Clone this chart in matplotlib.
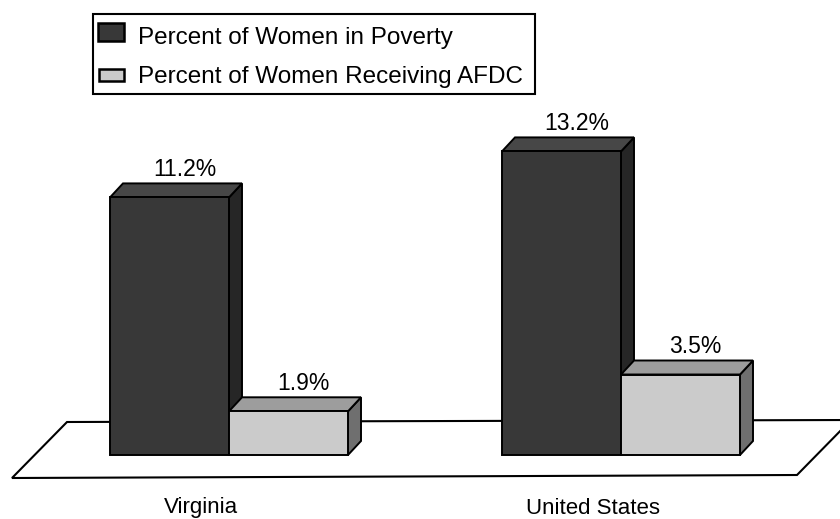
import matplotlib
matplotlib.use("Agg")
import matplotlib.pyplot as plt
from matplotlib.patches import Polygon, Rectangle

# Data
categories = ["Virginia", "United States"]
series_names = ["Percent of Women in Poverty", "Percent of Women Receiving AFDC"]
poverty = [11.2, 13.2]
afdc = [1.9, 3.5]
series_values = [poverty, afdc]

plt.rcParams["font.family"] = ["Liberation Sans", "DejaVu Sans"]

W, H = 840, 519
fig = plt.figure(figsize=(W / 100, H / 100), dpi=100)
ax = fig.add_axes([0, 0, 1, 1])

# vertical scale: pixels per percentage point, baseline row in pixels
PX_PER_PCT = 23.0
BASE_ROW = 455.0


def row_to_val(row):
    return (BASE_ROW - row) / PX_PER_PCT


ax.set_xlim(0, W)
ax.set_ylim(row_to_val(H), row_to_val(0))
ax.axis("off")

# bar layout (x in pixel-like units)
group_left0 = 110
group_step = 392
bar_w = 119
dx = 13                       # depth offset to the right
dy = 14 / PX_PER_PCT          # depth offset upward (in data units)

face_colors = [
    # front, top, side
    ("#383838", "#474747", "#262626"),
    ("#cbcbcb", "#9d9d9d", "#6f6f6f"),
]

# floor plane
floor_rows = [(12, 478), (797, 475), (851, 420), (67, 422)]
floor = Polygon([(x, row_to_val(r)) for x, r in floor_rows], closed=True,
                facecolor="white", edgecolor="black", lw=1.5, zorder=1)
ax.add_patch(floor)

lw = 1.4
for i, cat in enumerate(categories):
    gx = group_left0 + i * group_step
    for j, vals in enumerate(series_values):
        v = vals[i]
        x0 = gx + j * bar_w
        x1 = x0 + bar_w
        front_c, top_c, side_c = face_colors[j]
        z = 2 + j
        # side face
        ax.add_patch(Polygon([(x1, 0), (x1 + dx, dy), (x1 + dx, v + dy), (x1, v)],
                             closed=True, facecolor=side_c, edgecolor="black",
                             lw=lw, zorder=z, joinstyle="miter"))
        # top face
        ax.add_patch(Polygon([(x0, v), (x1, v), (x1 + dx, v + dy), (x0 + dx, v + dy)],
                             closed=True, facecolor=top_c, edgecolor="black",
                             lw=lw, zorder=z, joinstyle="miter"))
        # front face
        ax.add_patch(Rectangle((x0, 0), bar_w, v, facecolor=front_c,
                               edgecolor="black", lw=lw, zorder=z,
                               joinstyle="miter"))
        # value label
        ax.annotate(f"{v:.1f}%", xy=(x0 + bar_w / 2 + dx, v + dy),
                    xytext=(1.5, 5.5), textcoords="offset points",
                    ha="center", va="baseline", fontsize=16.5, zorder=10)
    # category label
    ax.text(gx + bar_w - 28, row_to_val(508), cat, ha="center", va="center",
            fontsize=16)

# legend box
pix = lambda x, r: (x / W, 1 - r / H)
box_l, box_t, box_r, box_b = 93, 14, 535, 94
fig.patches.append(Rectangle(pix(box_l, box_b), (box_r - box_l) / W,
                             (box_b - box_t) / H, transform=fig.transFigure,
                             facecolor="white", edgecolor="black", lw=1.5))
swatches = [((98, 23, 26, 18), face_colors[0][0]), ((99, 69, 25, 12), face_colors[1][0])]
baselines = [44, 83]
for (sx, sy, sw, sh), col in swatches:
    fig.patches.append(Rectangle(pix(sx, sy + sh), sw / W, sh / H,
                                 transform=fig.transFigure, facecolor=col,
                                 edgecolor="black", lw=1.8))
for name, b in zip(series_names, baselines):
    fig.text(*pix(138, b), name, ha="left", va="baseline", fontsize=17.5)

fig.savefig("out.png", dpi=100)
